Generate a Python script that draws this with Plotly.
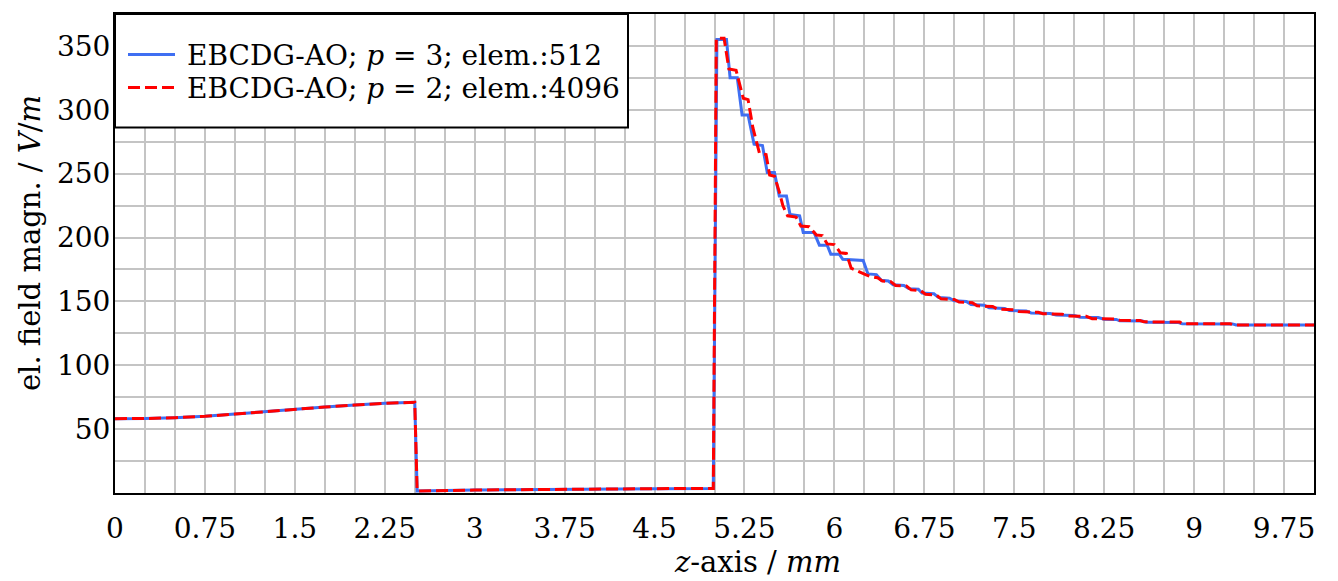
import plotly.graph_objects as go

# Series 1: EBCDG-AO; p = 3; elem.:512
z_p3 = [0.0, 0.25, 0.5, 0.75, 1.0, 1.25, 1.5, 1.75, 2.0, 2.25, 2.5, 2.52,
        3.0, 3.5, 4.0, 4.5, 4.99, 5.02, 5.10, 5.13, 5.19, 5.23, 5.28, 5.33, 5.40,
        5.44, 5.50, 5.54, 5.60, 5.63, 5.71, 5.74, 5.83, 5.875, 5.94, 5.97, 6.04,
        6.07, 6.24, 6.28, 6.35, 6.39, 6.45, 6.49, 6.58, 6.62, 6.70, 6.73, 6.83,
        6.87, 6.96, 7.0, 7.1, 7.14, 7.25, 7.29, 7.42, 7.46, 7.6, 7.64, 7.8, 7.85,
        8.0, 8.05, 8.2, 8.25, 8.35, 8.38, 8.57, 8.6, 8.87, 8.9, 9.32, 9.35, 10.0]
E_p3 = [58.2, 58.3, 59.0, 60.0, 61.8, 63.8, 65.6, 67.3, 68.8, 70.2, 71.0, 1.5,
        2.3, 2.8, 3.2, 3.4, 3.6, 355, 355, 325, 325, 296, 296, 273, 272,
        251, 251, 232.5, 232.5, 218, 217, 204, 204, 194, 194, 187, 187,
        183, 182, 171.5, 171, 166.5, 166, 163, 162.5, 160, 159.5, 156.5, 156,
        153, 152.5, 150.5, 150, 147.5, 147, 145, 144.5, 142.8, 142.5, 141, 140.5, 139.3,
        139, 137.6, 137.3, 136, 135.9, 134.8, 134.6, 133.6, 133.4, 132.5, 132.4, 131.5, 131.5]

# Series 2: EBCDG-AO; p = 2; elem.:4096
z_p2 = [0.0, 0.25, 0.5, 0.75, 1.0, 1.25, 1.5, 1.75, 2.0, 2.25, 2.5, 2.52,
        3.0, 3.5, 4.0, 4.5, 4.99, 5.015, 5.08, 5.12, 5.18, 5.24, 5.28, 5.32, 5.35,
        5.375, 5.43, 5.46, 5.50, 5.54, 5.57, 5.61, 5.68, 5.72, 5.79, 5.85, 5.90,
        5.94, 6.00, 6.05, 6.10, 6.14, 6.26, 6.30, 6.36, 6.40, 6.47, 6.51, 6.60,
        6.64, 6.72, 6.76, 6.85, 6.89, 7.0, 7.04, 7.15, 7.19, 7.32, 7.36, 7.5, 7.54,
        7.7, 7.74, 7.9, 7.95, 8.1, 8.15, 8.35, 8.38, 8.55, 8.58, 8.88, 8.9, 9.3, 9.33, 10.0]
E_p2 = [58.2, 58.3, 59.0, 60.0, 61.8, 63.8, 65.6, 67.3, 68.8, 70.2, 71.0, 1.5,
        2.3, 2.8, 3.2, 3.4, 3.6, 356, 356, 332, 331, 309, 308, 286, 275,
        266, 265, 249, 248, 236, 225, 217, 216, 209, 208.5, 202, 201.5,
        195, 194.5, 188, 187.5, 176, 171, 169.5, 168.5, 166, 165.5, 162.5, 162,
        159, 158.5, 155.5, 155, 152, 151.5, 149.5, 149, 146.5, 146, 144, 143.5, 142,
        141.5, 140.3, 140, 138.6, 138.3, 136.5, 136.2, 135.2, 135, 134, 133.8, 132.6, 132.5, 131.5, 131.5]

x_ticks = [0, 0.75, 1.5, 2.25, 3, 3.75, 4.5, 5.25, 6, 6.75, 7.5, 8.25, 9, 9.75]
x_ticklabels = ["0", "0.75", "1.5", "2.25", "3", "3.75", "4.5", "5.25", "6", "6.75", "7.5", "8.25", "9", "9.75"]
y_ticks = [50, 100, 150, 200, 250, 300, 350]

FONT = "DejaVu Serif"
FS = 28
FS_TITLE = 29
GRID = "#c4c4c4"

W, H = 1338, 581
ML, MR, MT, MB = 115, 24, 12, 88
pw, ph = W - ML - MR, H - MT - MB


def px_x(px):
    return (px - ML) / pw


def px_y(py):
    return (H - MB - py) / ph


fig = go.Figure()
fig.add_trace(go.Scatter(x=z_p3, y=E_p3, mode="lines",
                         name="\u2005EBCDG-AO; <i>p</i> = 3; elem.:512",
                         line=dict(color="#3f6ff2", width=3), legend="legend"))
fig.add_trace(go.Scatter(x=z_p2, y=E_p2, mode="lines",
                         name="\u2005EBCDG-AO; <i>p</i> = 2; elem.:4096",
                         line=dict(color="#ff0000", width=3, dash="12px,5px"), legend="legend2"))

axis_common = dict(showline=True, linecolor="black", linewidth=2, mirror=True,
                   ticks="", ticklen=0, showgrid=True, gridcolor=GRID, gridwidth=2,
                   zeroline=False, tickfont=dict(family=FONT, size=FS, color="black"))

fig.update_xaxes(range=[0, 10], tickmode="array", tickvals=x_ticks, ticktext=x_ticklabels,
                 minor=dict(dtick=0.25, tick0=0, showgrid=True, gridcolor=GRID, gridwidth=2),
                 ticklabelstandoff=9, **axis_common)
fig.update_yaxes(range=[0, 375], tickmode="array", tickvals=y_ticks,
                 minor=dict(dtick=25, tick0=0, showgrid=True, gridcolor=GRID, gridwidth=2),
                 ticklabelstandoff=-3, **axis_common)

leg_common = dict(xanchor="left", yanchor="middle", bgcolor="rgba(0,0,0,0)",
                  borderwidth=0, font=dict(family=FONT, size=FS, color="black"),
                  itemwidth=47)

fig.update_layout(
    width=W, height=H,
    margin=dict(l=ML, r=MR, t=MT, b=MB),
    plot_bgcolor="white", paper_bgcolor="white",
    font=dict(family=FONT, size=FS, color="black"),
    legend=dict(x=px_x(123), y=px_y(53), **leg_common),
    legend2=dict(x=px_x(123), y=px_y(86), **leg_common),
    showlegend=True,
)

# legend frame
fig.add_shape(type="rect", xref="paper", yref="paper",
              x0=0, x1=px_x(628), y0=px_y(126), y1=1,
              line=dict(color="black", width=2), fillcolor="white", layer="above")

fig.add_annotation(text="<i>z</i>-axis / <i>mm</i>", x=px_x(757), y=px_y(562),
                   xref="paper", yref="paper", showarrow=False,
                   xanchor="center", yanchor="middle",
                   font=dict(family=FONT, size=FS_TITLE, color="black"))
fig.add_annotation(text="el. field magn. / <i>V</i>/<i>m</i>", textangle=-90,
                   x=px_x(30), y=px_y(242), xref="paper", yref="paper",
                   showarrow=False, xanchor="center", yanchor="middle",
                   font=dict(family=FONT, size=FS_TITLE, color="black"))

fig.write_html("out.html")
